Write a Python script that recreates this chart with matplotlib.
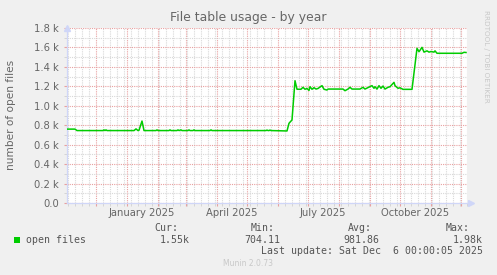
import matplotlib
matplotlib.use("Agg")
import matplotlib.dates as mdates
import matplotlib.pyplot as plt
from matplotlib.ticker import FuncFormatter, MultipleLocator
from matplotlib.transforms import blended_transform_factory
import pandas as pd

# open files (daily-ish samples)
dates = [
    "2024-11-02", "2024-11-10", "2024-11-12", "2024-12-08", "2024-12-09", "2024-12-10",
    "2024-12-11", "2024-12-12", "2025-01-08", "2025-01-10", "2025-01-12", "2025-01-13",
    "2025-01-16", "2025-01-18", "2025-01-30", "2025-01-31", "2025-02-01", "2025-02-12",
    "2025-02-13", "2025-02-14", "2025-02-20", "2025-02-21", "2025-02-22", "2025-02-24",
    "2025-02-25", "2025-03-03", "2025-03-04", "2025-03-05", "2025-03-08", "2025-03-09",
    "2025-03-10", "2025-03-25", "2025-03-26", "2025-03-27", "2025-05-20", "2025-05-21",
    "2025-05-22", "2025-05-23", "2025-05-24", "2025-05-25", "2025-06-10", "2025-06-12",
    "2025-06-15", "2025-06-18", "2025-06-20", "2025-06-21", "2025-06-24", "2025-06-26",
    "2025-06-28", "2025-06-30", "2025-07-02", "2025-07-03", "2025-07-05", "2025-07-07",
    "2025-07-09", "2025-07-11", "2025-07-15", "2025-07-17", "2025-07-20", "2025-07-21",
    "2025-08-05", "2025-08-07", "2025-08-10", "2025-08-12", "2025-08-14", "2025-08-22",
    "2025-08-25", "2025-08-27", "2025-09-03", "2025-09-05", "2025-09-06", "2025-09-08",
    "2025-09-10", "2025-09-12", "2025-09-14", "2025-09-16", "2025-09-19", "2025-09-21",
    "2025-09-25", "2025-09-26", "2025-09-29", "2025-10-01", "2025-10-04", "2025-10-13",
    "2025-10-18", "2025-10-20", "2025-10-23", "2025-10-25", "2025-10-28", "2025-10-30",
    "2025-11-01", "2025-11-04", "2025-11-05", "2025-11-07", "2025-12-02", "2025-12-04",
    "2025-12-06",
]
open_files = [
    760, 760, 745, 745, 752, 745,
    752, 745, 745, 762, 745, 748,
    843, 745, 745, 752, 745, 745,
    752, 745, 745, 752, 745, 752,
    745, 745, 752, 745, 745, 752,
    745, 745, 752, 745, 745, 750,
    745, 745, 750, 745, 741, 820,
    854, 1258, 1170, 1170, 1170, 1190,
    1170, 1178, 1158, 1196, 1170, 1186,
    1172, 1178, 1207, 1170, 1162, 1172,
    1172, 1155, 1172, 1190, 1172, 1172,
    1190, 1172, 1207, 1180, 1196, 1172,
    1207, 1180, 1203, 1172, 1190, 1196,
    1241, 1207, 1180, 1185, 1169, 1169,
    1591, 1556, 1601, 1552, 1565, 1552,
    1558, 1552, 1565, 1540, 1540, 1550,
    1548,
]

label_dates = ["2025-01-16", "2025-04-16", "2025-07-16", "2025-10-16"]
label_texts = ["January 2025", "April 2025", "July 2025", "October 2025"]

legend_cols = ["Cur:", "Min:", "Avg:", "Max:"]
legend_vals = ["1.55k", "704.11", "981.86", "1.98k"]

BG = "#F0F0F0"
FONT = "#666666"
AXIS = "#CFD6F8"
W, H = 497, 275

fig = plt.figure(figsize=(W / 100, H / 100), dpi=100, facecolor=BG)
ax = fig.add_axes([67 / W, (H - 203) / H, 400 / W, 175 / H], facecolor="white")

ts = pd.to_datetime(dates)
ax.plot(ts, open_files, color="#00CC00", linewidth=1.1, zorder=5)

ax.set_xlim(pd.Timestamp("2024-11-02"), pd.Timestamp("2025-12-07"))
ax.set_ylim(0, 1800)

ax.xaxis.set_major_locator(mdates.MonthLocator())
ax.xaxis.set_minor_locator(mdates.WeekdayLocator(byweekday=mdates.SU))
ax.xaxis.set_major_formatter(plt.NullFormatter())
ax.yaxis.set_major_locator(MultipleLocator(200))
ax.yaxis.set_minor_locator(MultipleLocator(100))
ax.yaxis.set_major_formatter(FuncFormatter(lambda v, p: "0.0" if v == 0 else f"{v / 1000:.1f} k"))

dot = (0, (1, 1))
ax.grid(which="minor", color="#D8D8D8", linestyle=dot, linewidth=0.8)
ax.grid(which="major", color="#E8A0A0", linestyle=dot, linewidth=0.8)
ax.set_axisbelow(True)

for s in ("top", "right"):
    ax.spines[s].set_visible(False)
for s in ("left", "bottom"):
    ax.spines[s].set_color(AXIS)
    ax.spines[s].set_linewidth(0.9)

ax.tick_params(axis="both", which="major", length=2, color="#E8A0A0", labelsize=7.2,
               labelcolor=FONT, pad=4)
ax.tick_params(axis="both", which="minor", length=2, color="#D0D0D0")

# axis arrows
ax.plot([0], [1.0], marker="^", markersize=4, color=AXIS, transform=ax.transAxes, clip_on=False)
ax.plot([1.01], [0], marker=">", markersize=4, color=AXIS, transform=ax.transAxes, clip_on=False)

trans = blended_transform_factory(ax.transData, ax.transAxes)
for d, t in zip(label_dates, label_texts):
    ax.text(pd.Timestamp(d), -0.055, t, transform=trans, ha="center", va="center",
            fontsize=7.2, color=FONT)

fig.text(248 / W, 1 - 17 / H, "File table usage - by year", ha="center", va="center",
         fontsize=8.9, color=FONT)
fig.text(11 / W, 1 - 115 / H, "number of open files", ha="center", va="center",
         rotation=90, fontsize=7.6, color=FONT)
fig.text(486 / W, 1 - 56 / H, "RRDTOOL / TOBI OETIKER", ha="center", va="center",
         rotation=270, fontsize=5.2, color="#C8C8C8")

# legend block
mono = "DejaVu Sans Mono"
lg = "#555555"
fig.patches.append(plt.Rectangle((14 / W, 1 - 243 / H), 6 / W, 6 / H, transform=fig.transFigure,
                                 facecolor="#00CC00", edgecolor="none"))
fig.text(26 / W, 1 - 240 / H, "open files", ha="left", va="center", fontsize=7.1,
         family=mono, color=lg)
col_right = [178, 275, 372, 470]
val_right = [190, 280, 379, 483]
for c, v, xr, vr in zip(legend_cols, legend_vals, col_right, val_right):
    fig.text(xr / W, 1 - 228 / H, c, ha="right", va="center", fontsize=7.1, family=mono, color=lg)
    fig.text(vr / W, 1 - 240 / H, v, ha="right", va="center", fontsize=7.1, family=mono, color=lg)
fig.text(483 / W, 1 - 251.5 / H, "Last update: Sat Dec  6 00:00:05 2025", ha="right", va="center",
         fontsize=7.1, family=mono, color=lg)
fig.text(248 / W, 1 - 264 / H, "Munin 2.0.73", ha="center", va="center", fontsize=5.5,
         color="#C8C8C8")

fig.savefig("out.png", dpi=100, facecolor=BG)
